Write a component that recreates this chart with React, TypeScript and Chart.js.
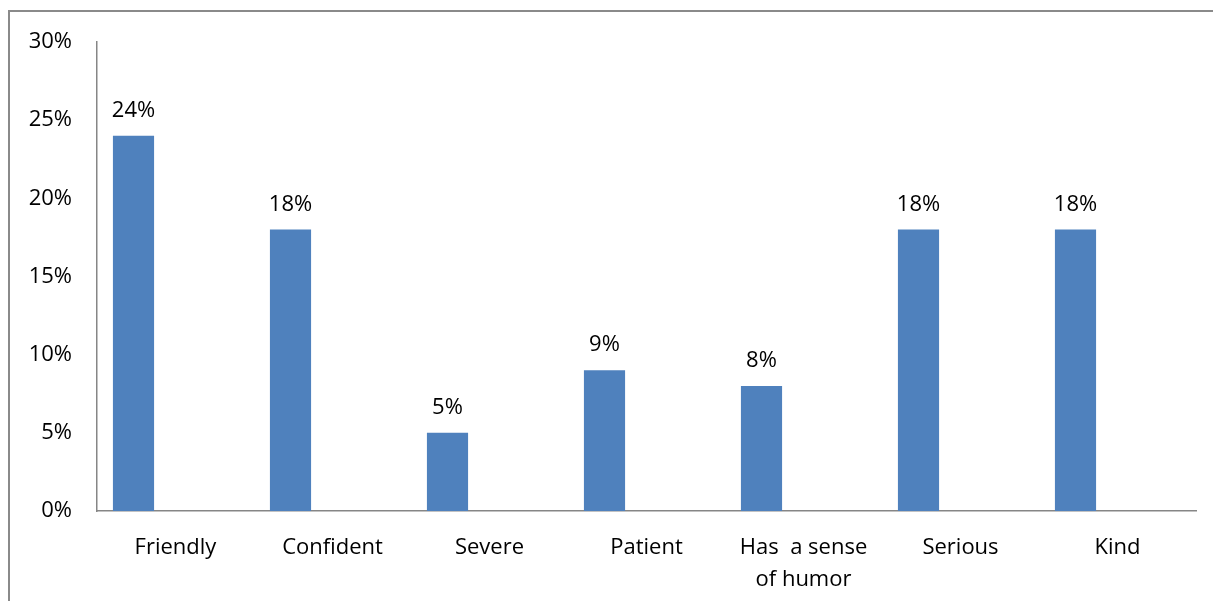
import React, { useEffect, useRef } from "react";
import { Chart, registerables } from "chart.js";

Chart.register(...registerables);

const categories: (string | string[])[] = [
  "Friendly",
  "Confident",
  "Severe",
  "Patient",
  ["Has  a sense", "of humor"],
  "Serious",
  "Kind",
];
const shares: number[] = [24, 18, 5, 9, 8, 18, 18];
const emptySeries: (number | null)[] = [null, null, null, null, null, null, null];
const yTicks: number[] = [0, 5, 10, 15, 20, 25, 30];

const FONT = "'Open Sans', 'Noto Sans', sans-serif";
const AXIS_GRAY = "#868686";

const barLabelPlugin = {
  id: "barLabels",
  afterDatasetsDraw(chart: any) {
    const ctx = chart.ctx;
    const meta = chart.getDatasetMeta(0);
    ctx.save();
    ctx.font = `22px ${FONT}`;
    ctx.fillStyle = "#000";
    ctx.textAlign = "center";
    ctx.textBaseline = "alphabetic";
    meta.data.forEach((bar: any, i: number) => {
      const v = shares[i];
      ctx.fillText(`${v}%`, bar.x, bar.y - 19);
    });
    ctx.restore();
  },
};

export default function App() {
  const canvasRef = useRef<HTMLCanvasElement | null>(null);

  useEffect(() => {
    if (!canvasRef.current) return;
    const chart = new Chart(canvasRef.current, {
      type: "bar",
      data: {
        labels: categories as any,
        datasets: [
          {
            data: shares,
            backgroundColor: "#4F81BD",
            borderWidth: 0,
            categoryPercentage: 1.07,
            barPercentage: 0.49,
          },
          {
            data: emptySeries as any,
            backgroundColor: "#C0504D",
            borderWidth: 0,
            categoryPercentage: 1.07,
            barPercentage: 0.49,
          },
        ],
      },
      options: {
        responsive: false,
        animation: false,
        layout: { padding: { left: 0, right: 17, top: 42, bottom: 0 } },
        plugins: {
          legend: { display: false },
          tooltip: { enabled: false },
          title: { display: false },
        },
        scales: {
          x: {
            grid: { display: false, drawTicks: false },
            border: { display: true, color: AXIS_GRAY, width: 1.5 },
            ticks: {
              color: "#000",
              font: { family: FONT, size: 22, lineHeight: 1.45 },
              padding: 21,
              maxRotation: 0,
              autoSkip: false,
            },
            afterFit(scale: any) {
              scale.height = 90;
            },
          },
          y: {
            min: 0,
            max: 30,
            afterBuildTicks(scale: any) {
              scale.ticks = yTicks.map((v) => ({ value: v }));
            },
            grid: { display: false, drawTicks: false },
            border: { display: true, color: AXIS_GRAY, width: 1.5 },
            ticks: {
              color: "#000",
              font: { family: FONT, size: 22 },
              padding: 25,
              callback: (v: any) => `${v}%`,
            },
            afterFit(scale: any) {
              scale.width = 97;
            },
          },
        },
      },
      plugins: [barLabelPlugin],
    });
    return () => chart.destroy();
  }, []);

  return (
    <div>
      <div
        style={{
          position: "fixed",
          left: 8,
          top: 10,
          width: 1205,
          height: 591,
          borderTop: "2px solid #8a8a8a",
          borderLeft: "2px solid #8a8a8a",
          boxSizing: "border-box",
        }}
      />
      <canvas
        ref={canvasRef}
        width={1213}
        height={601}
        style={{ position: "fixed", left: 0, top: 0, width: 1213, height: 601 }}
      />
    </div>
  );
}
